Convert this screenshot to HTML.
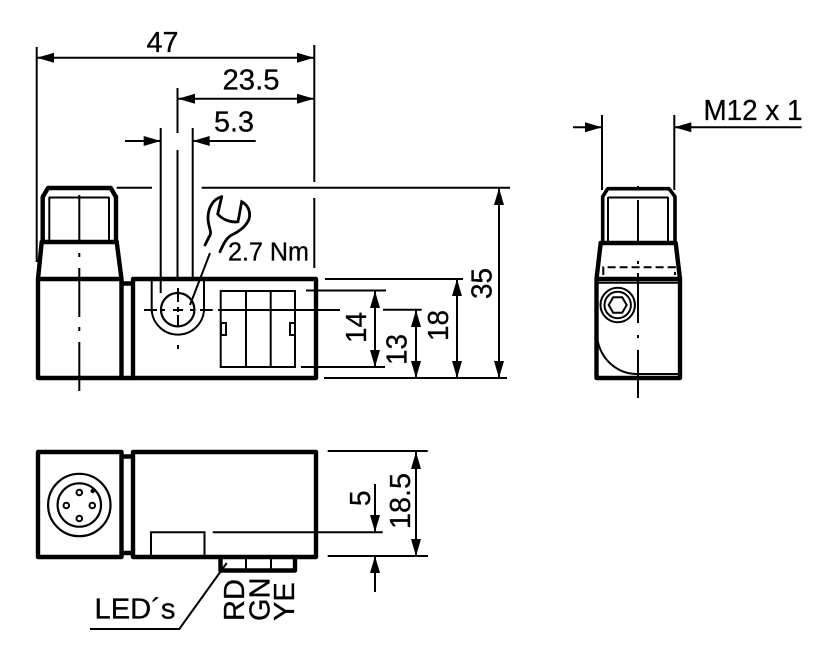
<!DOCTYPE html>
<html><head><meta charset="utf-8"><style>
html,body{margin:0;padding:0;background:#fff}
svg{display:block}
text{font-family:"Liberation Sans",sans-serif;fill:#000;stroke:#000;stroke-width:.3}
</style></head><body>
<svg width="827" height="650" viewBox="0 0 827 650" xmlns="http://www.w3.org/2000/svg">
<defs>
<path id="a" d="M0 0L-17 -5L-17 5Z" fill="#000"/>
</defs>
<!-- thin lines -->
<g stroke="#000" stroke-width="2" fill="none">
<!-- 47 -->
<path d="M36.7 47V262M314.3 45V182M314.3 198V268M37 57.7H314"/>
<!-- 23.5 -->
<path d="M177.5 88V133M177.5 150V277M178 98.7H314"/>
<!-- 5.3 -->
<path d="M125 141H160.7M192.7 141H255.7M160.7 128V293M192.7 128V281"/>
<!-- top ext -->
<path d="M116.7 187.7H152M201.7 187.7H510"/>
<!-- right-side dims -->
<path d="M306 290.5H386M301 367H385M325 279H463M324 378H507M218 310H340M383 309.7H421.7"/>
<path d="M375 291V367M416 310V378M457 279V378M499 188V378"/>
<!-- left centerlines -->
<path d="M79.3 195V242M79.3 253V257M79.3 268V317M79.3 327V331M79.3 342V391"/>
<!-- slot -->
<path d="M151.7 279V310A26.2 26.2 0 0 0 204 310V279"/>
<circle cx="177.7" cy="309.7" r="16.7" stroke-width="2.2"/>
<path d="M178 288V302M178 307V312M178 315V327M178 345V349M144 310H157M160 310H165M173 310H183M190 310H195M200 310H212.7"/>
<!-- LED window -->
<path d="M220.7 291H295V367H220.7ZM246 291V367M270.7 291V367M221 323H226V335H221ZM290 323H295V335H290Z"/>
<!-- leader -->
<path d="M210 253L190 305"/>
<!-- right view thin -->
<path d="M602 115V190M674.3 115V190M573 127.3H602M674.3 127.3H801.7"/>
<path d="M638 186V189M638 200V243M638 261V264M638 273V323M638 335V338M638 350V398"/>
<path d="M603.3 275V267.3H675V275" stroke-dasharray="8 4"/>
<path d="M597 282.7H679M597 337C600 360 618 374 637 374H679"/>
<circle cx="617.7" cy="305" r="17.2"/>
<circle cx="617.7" cy="305" r="13.2"/>
<path d="M608.7 305L613.2 297.2H622.2L626.7 305L622.2 312.8H613.2Z"/>
<path d="M608 197V243M668 197V243M608 197.5H668M49.3 197V242M109 197V242M49 197.5H109"/>
<!-- bottom view thin -->
<circle cx="79.3" cy="505" r="31.2" stroke-width="2.2"/>
<circle cx="79.3" cy="505" r="21.7" stroke-width="2.2"/>
<circle cx="79.3" cy="492.5" r="2.8"/><circle cx="79.3" cy="518.5" r="2.8"/><circle cx="66.3" cy="505.5" r="2.8"/><circle cx="92.3" cy="505.5" r="2.8"/>
<path d="M151 558V532.3H204.5V558"/>
<path d="M212.7 532.3H382.7M327.7 451H427.7M327.7 556H428M416 452V556M375 484V532M375 556V592"/>
<path d="M226.7 563L179.3 629H90"/>
<path d="M246 558V570M271 558V570"/>
</g>
<circle cx="92.7" cy="491" r="2.2" fill="#000"/>
<!-- wrench -->
<g stroke="#000" stroke-width="2.8" fill="none" stroke-linecap="round">
<path d="M221.7 196.7C213 199 208 208 208 218C208 228 213 232 209 237L205 245"/>
<path d="M221.7 196.7L217.7 214C222 219 230 223 238 221.7L241.7 201.7C248 205 251 212 249 219C246 227 238 232 231.7 235C226 238 223 245 220 251.7"/>
</g>
<!-- thick outlines -->
<g stroke="#000" stroke-width="4.4" fill="none" stroke-linejoin="round">
<path d="M38 279H121.5V378H38Z"/>
<path d="M133 279H316V378H133Z"/>
<path d="M121.5 283.5H133M121.5 378H133" />
<path d="M38 279L41.7 242H116.7L121.5 279"/>
<path d="M42.7 242V197L48 188H110.7L116 197V242"/>
<path d="M596.5 279L600.7 243H675.7L680 279"/>
<path d="M596.5 279H680V378H596.5Z"/>
<path d="M602.7 243V196.7L607.7 188.7H669L675 196.7V243" stroke-width="3.6"/>
<path d="M38 452H121.5V557H38Z"/>
<path d="M133 452H316V557H133Z"/>
<path d="M121.5 456.5H133M121.5 553H133"/>
<path d="M220.5 558V570.5H295V558"/>
</g>
<!-- arrowheads -->
<use href="#a" transform="translate(37 57.7) rotate(180)"/>
<use href="#a" transform="translate(314 57.7)"/>
<use href="#a" transform="translate(178 98.7) rotate(180)"/>
<use href="#a" transform="translate(314 98.7)"/>
<use href="#a" transform="translate(160.7 141)"/>
<use href="#a" transform="translate(192.7 141) rotate(180)"/>
<use href="#a" transform="translate(602 127.3)"/>
<use href="#a" transform="translate(674.3 127.3) rotate(180)"/>
<use href="#a" transform="translate(375 291) rotate(-90)"/>
<use href="#a" transform="translate(375 367) rotate(90)"/>
<use href="#a" transform="translate(416 310) rotate(-90)"/>
<use href="#a" transform="translate(416 378) rotate(90)"/>
<use href="#a" transform="translate(457 279) rotate(-90)"/>
<use href="#a" transform="translate(457 378) rotate(90)"/>
<use href="#a" transform="translate(499 188) rotate(-90)"/>
<use href="#a" transform="translate(499 378) rotate(90)"/>
<use href="#a" transform="translate(416 452) rotate(-90)"/>
<use href="#a" transform="translate(416 556) rotate(90)"/>
<use href="#a" transform="translate(375 532) rotate(90)"/>
<use href="#a" transform="translate(375 556) rotate(-90)"/>
<!-- labels -->
<g font-size="29">
<text x="146.5" y="52" textLength="32" lengthAdjust="spacingAndGlyphs">47</text>
<text x="222.5" y="89.5" textLength="57" lengthAdjust="spacingAndGlyphs">23.5</text>
<text x="214" y="131.5" textLength="40" lengthAdjust="spacingAndGlyphs">5.3</text>
<text x="703.5" y="120" textLength="99" lengthAdjust="spacingAndGlyphs">M12 x 1</text>
<text x="94.5" y="618.5" textLength="81" lengthAdjust="spacingAndGlyphs">LED´s</text>
<text transform="translate(366 343) rotate(-90)" textLength="31" lengthAdjust="spacingAndGlyphs">14</text>
<text transform="translate(406.7 365) rotate(-90)" textLength="31" lengthAdjust="spacingAndGlyphs">13</text>
<text transform="translate(448 341) rotate(-90)" textLength="31" lengthAdjust="spacingAndGlyphs">18</text>
<text transform="translate(491.7 299) rotate(-90)" textLength="31" lengthAdjust="spacingAndGlyphs">35</text>
<text transform="translate(370 506) rotate(-90)" textLength="15.5" lengthAdjust="spacingAndGlyphs">5</text>
<text transform="translate(410 529) rotate(-90)" textLength="56" lengthAdjust="spacingAndGlyphs">18.5</text>
<text transform="translate(244 621) rotate(-90)">RD</text>
<text transform="translate(269.3 621) rotate(-90)">GN</text>
<text transform="translate(294 621) rotate(-90)">YE</text>
</g>
<text x="228" y="260.5" font-size="25.5" textLength="81" lengthAdjust="spacingAndGlyphs">2.7 Nm</text>
</svg>
</body></html>
